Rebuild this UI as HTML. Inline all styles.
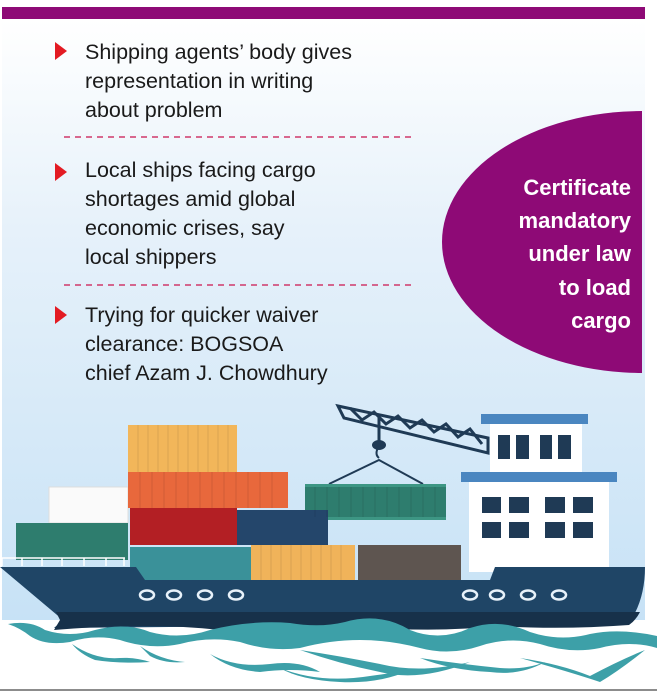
<!DOCTYPE html>
<html><head><style>
body{margin:0;width:657px;height:699px;overflow:hidden;background:#fff}
svg{display:block}
text{font-family:"Liberation Sans",sans-serif}
</style></head><body>
<svg width="657" height="699" viewBox="0 0 657 699">
<defs>
<linearGradient id="bg" x1="0" y1="0" x2="0" y2="1">
<stop offset="0" stop-color="#ffffff"/><stop offset="0.35" stop-color="#e6f1fa"/><stop offset="1" stop-color="#c7e2f6"/>
</linearGradient>
<clipPath id="pc"><rect x="2" y="20" width="640" height="680"/></clipPath>
</defs>
<rect x="2" y="20" width="643" height="600" fill="url(#bg)"/>
<rect x="2" y="7" width="643" height="12" fill="#8e0a76"/>
<line x1="0" y1="690" x2="657" y2="690" stroke="#666" stroke-width="1.5"/>

<g font-size="21.5" fill="#1a1a1a">
<path d="M55,42 L67,51 L55,60Z" fill="#e31b23"/>
<text x="85" y="59">Shipping agents’ body gives</text>
<text x="85" y="88">representation in writing</text>
<text x="85" y="117">about problem</text>
<line x1="64" y1="137" x2="412" y2="137" stroke="#d0386a" stroke-width="1.5" stroke-dasharray="6,5"/>
<path d="M55,163 L67,172 L55,181Z" fill="#e31b23"/>
<text x="85" y="177">Local ships facing cargo</text>
<text x="85" y="206">shortages amid global</text>
<text x="85" y="235">economic crises, say</text>
<text x="85" y="264">local shippers</text>
<line x1="64" y1="285" x2="412" y2="285" stroke="#d0386a" stroke-width="1.5" stroke-dasharray="6,5"/>
<path d="M55,306 L67,315 L55,324Z" fill="#e31b23"/>
<text x="85" y="322">Trying for quicker waiver</text>
<text x="85" y="351">clearance: BOGSOA</text>
<text x="85" y="380">chief Azam J. Chowdhury</text>
</g>

<g clip-path="url(#pc)"><ellipse cx="643" cy="242" rx="201" ry="131" fill="#8e0a76"/></g>
<g font-size="22" font-weight="bold" fill="#fff" text-anchor="end">
<text x="631" y="195">Certificate</text>
<text x="631" y="228">mandatory</text>
<text x="631" y="261">under law</text>
<text x="631" y="295">to load</text>
<text x="631" y="328">cargo</text>
</g>

<!-- crane -->
<g stroke="#1f3a55" stroke-width="3" fill="none">
<path d="M338,406 L488,438 L488,453 L344,418Z"/>
<path d="M350,408 L362,420 L374,412 L386,424 L398,416 L410,428 L422,420 L434,432 L446,424 L458,437 L470,429 L482,444"/>
<line x1="379" y1="415" x2="379" y2="442"/>
<path d="M329,484 L379,460 L423,484" stroke-width="2"/>
<path d="M379,446 q-5,8 0,12" stroke-width="2"/>
</g>
<ellipse cx="379" cy="445" rx="7" ry="5" fill="#1f3a55"/>
<rect x="305" y="484" width="141" height="36" fill="#2e7d6e"/>
<rect x="305" y="484" width="141" height="3" fill="#3d9684"/>
<rect x="305" y="517" width="141" height="3" fill="#3d9684"/>

<!-- bridge -->
<rect x="490" y="424" width="92" height="48" fill="#fff"/>
<rect x="481" y="414" width="107" height="10" fill="#4a86c0"/>
<g fill="#1f3a55"><rect x="498" y="435" width="12" height="24"/><rect x="516" y="435" width="13" height="24"/><rect x="540" y="435" width="12" height="24"/><rect x="558" y="435" width="13" height="24"/></g>
<rect x="469" y="482" width="140" height="90" fill="#fff"/>
<rect x="461" y="472" width="156" height="10" fill="#4a86c0"/>
<g fill="#1f3a55">
<rect x="482" y="497" width="19" height="16"/><rect x="509" y="497" width="20" height="16"/><rect x="545" y="497" width="20" height="16"/><rect x="573" y="497" width="20" height="16"/>
<rect x="482" y="522" width="19" height="16"/><rect x="509" y="522" width="20" height="16"/><rect x="545" y="522" width="20" height="16"/><rect x="573" y="522" width="20" height="16"/>
</g>

<!-- containers -->
<rect x="49" y="487" width="79" height="36" fill="#fafafa" stroke="#ddd"/>
<rect x="16" y="523" width="112" height="37" fill="#2e7d6e"/>
<rect x="128" y="425" width="109" height="47" fill="#f2b65a"/>
<rect x="128" y="472" width="160" height="36" fill="#e8683c"/>
<rect x="130" y="508" width="107" height="37" fill="#b31f24"/>
<rect x="237" y="510" width="91" height="35" fill="#24466b"/>
<rect x="130" y="547" width="121" height="33" fill="#3a9199"/>
<rect x="251" y="545" width="104" height="35" fill="#f0b35a"/>
<rect x="358" y="545" width="103" height="35" fill="#5e5550"/>
<g stroke="#000" stroke-width="0.8" opacity="0.12">
<path d="M138,425v47M148,425v47M158,425v47M168,425v47M178,425v47M188,425v47M198,425v47M208,425v47M218,425v47M228,425v47"/>
<path d="M140,472v36M152,472v36M164,472v36M176,472v36M188,472v36M200,472v36M212,472v36M224,472v36M236,472v36M248,472v36M260,472v36M272,472v36"/>
<path d="M315,487v30M327,487v30M339,487v30M351,487v30M363,487v30M375,487v30M387,487v30M399,487v30M411,487v30M423,487v30M435,487v30"/>
<path d="M261,545v35M271,545v35M281,545v35M291,545v35M301,545v35M311,545v35M321,545v35M331,545v35M341,545v35"/>
</g>
<g stroke="#fff" stroke-width="1.5" fill="none"><path d="M2,558 H125 M2,558 v8 M22,558v8 M42,558v8 M62,558v8 M84,558v8 M106,558v8 M124,558v8"/></g>

<!-- hull -->
<path d="M0,567 L136,567 L145,580 L490,580 L495,567 L645,567 Q645,600 629,623 L54,628 L63,620 Z" fill="#1f4566"/>
<path d="M56,612 L640,612 Q636,620 629,625 Q560,630 500,626 Q440,632 380,628 Q300,622 220,630 Q150,622 54,630 L60,620Z" fill="#17314a"/>
<g fill="none" stroke="#e8f2fa" stroke-width="2.5">
<ellipse cx="147" cy="595" rx="7" ry="4.5"/><ellipse cx="174" cy="595" rx="7" ry="4.5"/><ellipse cx="205" cy="595" rx="7" ry="4.5"/><ellipse cx="236" cy="595" rx="7" ry="4.5"/>
<ellipse cx="470" cy="595" rx="7" ry="4.5"/><ellipse cx="497" cy="595" rx="7" ry="4.5"/><ellipse cx="528" cy="595" rx="7" ry="4.5"/><ellipse cx="559" cy="595" rx="7" ry="4.5"/>
</g>

<!-- waves -->
<g fill="#3da0a8">
<path d="M8,624 Q30,620 45,630 Q70,638 95,630 Q125,622 150,632 Q180,640 210,630 Q250,620 290,623 Q320,628 345,622 Q380,612 410,630 Q440,642 470,628 Q500,618 530,632 Q560,642 590,634 Q620,628 657,636 L657,648 Q630,640 600,648 Q570,654 540,644 Q510,636 480,646 Q450,656 420,648 Q390,640 360,640 Q330,640 300,648 Q270,652 240,642 Q210,636 180,644 Q150,650 120,640 Q95,634 70,642 Q45,646 30,636 Q20,628 8,624Z"/>
<path d="M72,644 Q95,660 120,658 Q135,657 150,662 Q120,664 95,660 Q80,654 72,644Z"/>
<path d="M140,646 Q160,660 185,662 Q165,664 150,656Z"/>
<path d="M210,654 Q235,668 270,664 Q300,660 320,672 Q290,668 260,672 Q230,670 210,654Z"/>
<path d="M300,650 Q340,656 380,664 Q420,674 470,662 Q420,682 380,672 Q340,664 300,650Z"/>
<path d="M280,668 Q320,684 370,676 Q400,672 410,670 Q380,684 340,682 Q300,680 280,668Z"/>
<path d="M420,658 Q460,664 500,668 Q525,670 545,662 Q520,676 490,672 Q450,670 420,658Z"/>
<path d="M520,658 Q560,664 590,676 Q620,660 645,650 Q620,670 600,682 Q570,672 520,658Z"/>
</g>
</svg>
</body></html>
